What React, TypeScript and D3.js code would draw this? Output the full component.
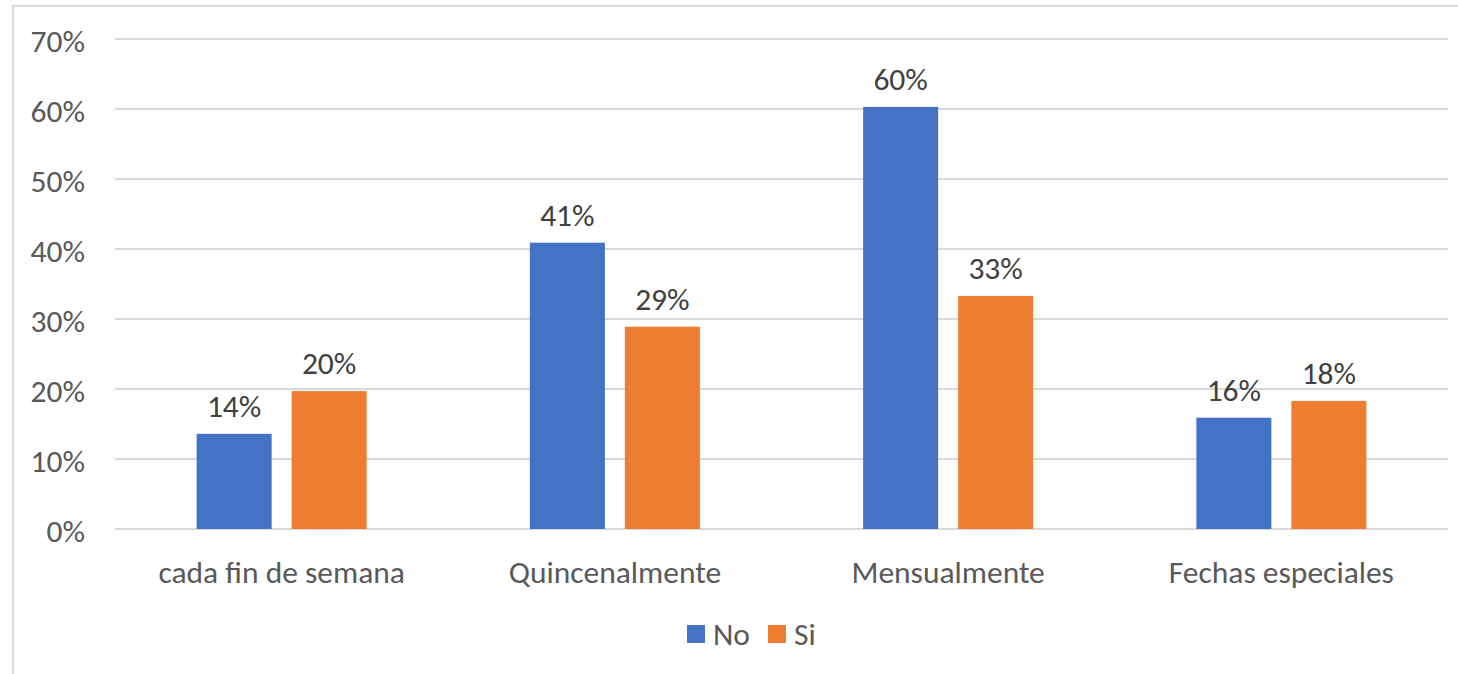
import React from "react";
import * as d3 from "d3";

const categories = ["cada fin de semana", "Quincenalmente", "Mensualmente", "Fechas especiales"];
const seriesNames = ["No", "Si"];
const noValues = [0.136, 0.409, 0.603, 0.159];
const siValues = [0.197, 0.289, 0.333, 0.183];
const yTicks = [0, 0.1, 0.2, 0.3, 0.4, 0.5, 0.6, 0.7];
const colors = ["#4472C4", "#ED7D31"];

const W = 1458;
const H = 674;
const FONT = "Carlito, Calibri, Lato, 'Liberation Sans', Arial, sans-serif";
const TEXT = "#595959";
const FS = 31.5;

export default function App() {
  const x0 = d3.scaleBand<string>().domain(categories).range([115, 1448]).paddingInner(0).paddingOuter(0);
  const x1 = d3.scaleBand<string>().domain(seriesNames).range([0, 170]).paddingInner(20 / 95);
  const y = d3.scaleLinear().domain([0, 0.7]).range([529, 39]);
  const fmt = d3.format(".0%");
  const values = [noValues, siValues];

  return (
    <svg width={W} height={H} style={{ position: "absolute", left: 0, top: 0, background: "#fff" }} fontFamily={FONT}>
      <rect x={0} y={0} width={W} height={H} fill="#fff" />
      <rect x={13} y={6} width={W + 20} height={H + 20} fill="none" stroke="#d9d9d9" strokeWidth={2} />
      {yTicks.map((t) => (
        <g key={t}>
          <line x1={115} x2={1448} y1={y(t)} y2={y(t)} stroke="#d9d9d9" strokeWidth={2} />
          <text x={85} y={y(t) + 13} textAnchor="end" fontSize={FS} fill={TEXT}>{fmt(t)}</text>
        </g>
      ))}
      {categories.map((c, i) => {
        const gx = (x0(c) as number) + x0.bandwidth() / 2 - 85;
        return (
          <g key={c}>
            {seriesNames.map((s, j) => {
              const v = values[j][i];
              const bx = gx + (x1(s) as number);
              const bw = x1.bandwidth();
              return (
                <g key={s}>
                  <rect x={bx} y={y(v)} width={bw} height={y(0) - y(v)} fill={colors[j]} />
                  <text x={bx + bw / 2} y={y(v) - 17} textAnchor="middle" fontSize={FS} fill="#404040">{fmt(v)}</text>
                </g>
              );
            })}
            <text x={(x0(c) as number) + x0.bandwidth() / 2} y={583} textAnchor="middle" fontSize={FS} fill={TEXT}>{c}</text>
          </g>
        );
      })}
      {seriesNames.map((s, j) => {
        const lx = j === 0 ? 687 : 768;
        return (
          <g key={s}>
            <rect x={lx} y={625} width={18} height={18} fill={colors[j]} />
            <text x={lx + 26} y={645} fontSize={FS} fill={TEXT}>{s}</text>
          </g>
        );
      })}
    </svg>
  );
}
